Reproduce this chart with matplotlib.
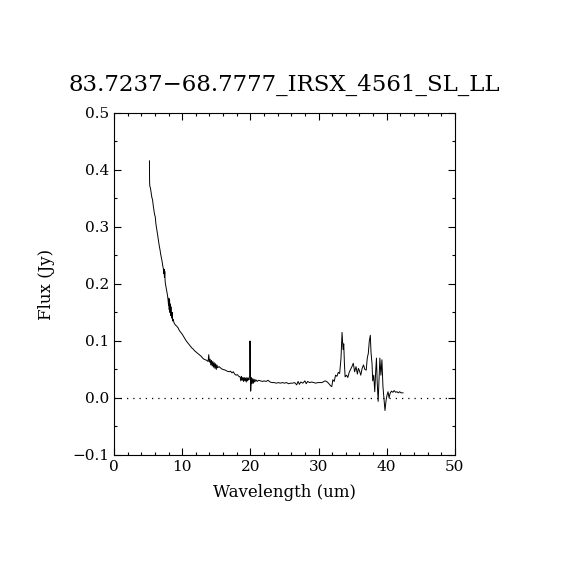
import numpy as np
import matplotlib
matplotlib.use('Agg')
import matplotlib.pyplot as plt
from matplotlib.ticker import MultipleLocator

plt.rcParams['font.family'] = ['DejaVu Serif']

title = '83.7237\u221268.7777_IRSX_4561_SL_LL'
xticks = [0, 10, 20, 30, 40, 50]
yticks = [-0.1, 0.0, 0.1, 0.2, 0.3, 0.4, 0.5]
ytick_labels = ['\u22120.1', '0.0', '0.1', '0.2', '0.3', '0.4', '0.5']

# spectrum (um, Jy)
wave = [5.20, 5.22, 5.25, 5.35, 5.45, 5.55, 5.65, 5.75, 5.85, 5.95,
        6.05, 6.15, 6.25, 6.35, 6.45, 6.55, 6.65, 6.75, 6.85, 6.95,
        7.05, 7.15, 7.25, 7.30, 7.35, 7.40, 7.45, 7.50, 7.55, 7.65,
        7.75, 7.85, 7.95, 8.00, 8.05, 8.10, 8.15, 8.20, 8.25, 8.30,
        8.35, 8.45, 8.55, 8.60, 8.70, 8.80, 9.00, 9.20, 9.40, 9.60,
        9.80, 10.0, 10.2, 10.4, 10.6, 10.8, 11.0, 11.2, 11.4, 11.6,
        11.8, 12.0, 12.2, 12.4, 12.6, 12.8, 13.0, 13.2, 13.4, 13.6,
        13.8, 13.9, 14.0, 14.1, 14.2, 14.3, 14.4, 14.5, 14.6, 14.7,
        14.8, 14.9, 15.0, 15.1, 15.2, 15.4, 15.6, 15.8, 16.0, 16.3,
        16.6, 16.9, 17.1, 17.3, 17.5, 17.7, 17.9, 18.1, 18.3, 18.5,
        18.6, 18.7, 18.8, 18.9, 19.0, 19.1, 19.2, 19.3, 19.4, 19.5,
        19.6, 19.7, 19.8, 19.9, 19.95, 20.05, 20.15, 20.25, 20.35, 20.45,
        20.55, 20.65, 20.8, 21.0, 21.2, 21.5, 21.8, 22.0, 22.3, 22.6,
        22.9, 23.2, 23.5, 23.8, 24.1, 24.4, 24.7, 25.0, 25.3, 25.6,
        25.9, 26.2, 26.5, 26.8, 27.0, 27.2, 27.4, 27.7, 28.0, 28.2,
        28.4, 28.7, 29.0, 29.3, 29.6, 29.9, 30.2, 30.5, 30.8, 31.0,
        31.3, 31.6, 31.8, 31.95, 32.1, 32.3, 32.5, 32.7, 32.9, 33.1,
        33.3, 33.45, 33.6, 33.7, 33.8, 33.9, 34.1, 34.3, 34.5, 34.7,
        34.9, 35.1, 35.3, 35.5, 35.7, 35.85, 36.0, 36.2, 36.4, 36.6,
        36.8, 37.0, 37.15, 37.3, 37.45, 37.6, 37.7, 37.85, 37.95, 38.1,
        38.25, 38.4, 38.5, 38.6, 38.75, 38.9, 39.0, 39.15, 39.3, 39.45,
        39.6, 39.75, 39.9, 40.05, 40.2, 40.35, 40.5, 40.7, 40.9, 41.1,
        41.3, 41.5, 41.7, 41.9, 42.1, 42.4]

flux = [0.416, 0.380, 0.372, 0.368, 0.360, 0.352, 0.348, 0.338, 0.330, 0.322,
        0.318, 0.305, 0.298, 0.290, 0.282, 0.274, 0.266, 0.260, 0.252, 0.246,
        0.240, 0.232, 0.226, 0.218, 0.226, 0.212, 0.222, 0.205, 0.200, 0.193,
        0.186, 0.180, 0.170, 0.162, 0.175, 0.155, 0.172, 0.150, 0.165, 0.145,
        0.160, 0.140, 0.150, 0.135, 0.138, 0.132, 0.128, 0.126, 0.123, 0.118,
        0.115, 0.112, 0.108, 0.104, 0.100, 0.097, 0.094, 0.091, 0.088, 0.086,
        0.083, 0.081, 0.079, 0.077, 0.075, 0.073, 0.070, 0.068, 0.067, 0.066,
        0.064, 0.076, 0.063, 0.068, 0.058, 0.066, 0.056, 0.064, 0.054, 0.062,
        0.052, 0.060, 0.050, 0.058, 0.053, 0.055, 0.053, 0.051, 0.050, 0.049,
        0.047, 0.046, 0.047, 0.044, 0.046, 0.042, 0.040, 0.041, 0.038, 0.037,
        0.030, 0.038, 0.031, 0.036, 0.029, 0.036, 0.030, 0.035, 0.028, 0.036,
        0.030, 0.035, 0.032, 0.040, 0.100, 0.012, 0.036, 0.025, 0.034, 0.026,
        0.033, 0.028, 0.032, 0.029, 0.031, 0.030, 0.029, 0.030, 0.029, 0.031,
        0.028, 0.027, 0.027, 0.026, 0.027, 0.026, 0.027, 0.026, 0.027, 0.025,
        0.026, 0.026, 0.027, 0.023, 0.029, 0.024, 0.028, 0.026, 0.030, 0.025,
        0.029, 0.027, 0.028, 0.027, 0.026, 0.027, 0.027, 0.027, 0.029, 0.030,
        0.028, 0.024, 0.021, 0.020, 0.032, 0.029, 0.040, 0.038, 0.045, 0.043,
        0.070, 0.115, 0.085, 0.095, 0.060, 0.037, 0.040, 0.036, 0.045, 0.050,
        0.055, 0.061, 0.046, 0.055, 0.042, 0.052, 0.048, 0.040, 0.052, 0.058,
        0.050, 0.049, 0.070, 0.078, 0.100, 0.110, 0.080, 0.060, 0.030, 0.040,
        0.011, 0.050, 0.070, 0.030, -0.006, 0.040, 0.070, 0.040, 0.067, 0.020,
        0.000, -0.022, -0.005, 0.005, 0.011, 0.000, 0.008, 0.012, 0.010, 0.013,
        0.010, 0.011, 0.009, 0.011, 0.009, 0.009]

fig = plt.figure(figsize=(5.7, 5.7), dpi=100)
ax = fig.add_axes([0.2, 0.2018, 0.598, 0.6])

ax.plot(wave, flux, color='k', lw=0.7)
ax.axhline(0, color='k', lw=0.9, linestyle=(0, (1, 4)))

ax.set_xlim(0, 50)
ax.set_ylim(-0.1, 0.5)
ax.set_xticks(xticks)
ax.set_xticklabels([str(t) for t in xticks])
ax.set_yticks(yticks)
ax.set_yticklabels(ytick_labels)
ax.xaxis.set_minor_locator(MultipleLocator(2))
ax.yaxis.set_minor_locator(MultipleLocator(0.05))
ax.tick_params(which='both', direction='in', top=True, right=True,
               labelsize=11, width=0.8)
ax.tick_params(which='major', length=5)
ax.tick_params(which='minor', length=2.5)
for s in ax.spines.values():
    s.set_linewidth(0.8)

ax.set_title(title, fontsize=16.5, pad=16)
ax.set_xlabel('Wavelength (um)', fontsize=12, labelpad=7)
ax.set_ylabel('Flux (Jy)', fontsize=12, labelpad=12)

plt.savefig('out.png', dpi=100)
